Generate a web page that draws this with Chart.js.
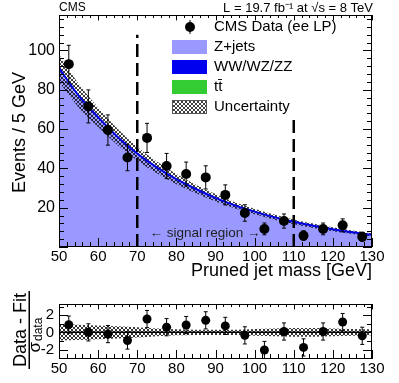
<!DOCTYPE html>
<html lang="en">
<head>
<meta charset="UTF-8">
<title>Pruned jet mass</title>
<script src="https://cdn.jsdelivr.net/npm/chart.js"></script>
<style>
  body { margin: 0; background: #fff; width: 399px; height: 383px; overflow: hidden; }
  canvas { position: absolute; left: 0; }
  #main { top: 0; }
  #pull { top: 290px; }
</style>
</head>
<body>
<canvas id="main" width="399" height="290"></canvas>
<canvas id="pull" width="399" height="93"></canvas>
<script>
// data points (bin centres, 5 GeV bins)
const massBins = [52.5, 57.5, 62.5, 67.5, 72.5, 77.5, 82.5, 87.5, 92.5, 97.5, 102.5, 107.5, 112.5, 117.5, 122.5, 127.5];
const dataEvents = [93, 71.5, 59.5, 45.5, 55.5, 41.2, 37.1, 35.4, 26.5, 17.3, 9.2, 13.2, 5.8, 9.2, 11.0, 5.2];
const dataErr = [9.6, 8.4, 7.7, 6.7, 7.4, 6.4, 6.1, 5.9, 5.1, 4.2, 3.0, 3.6, 2.4, 3.0, 3.3, 2.3];

// fit curves
const fitMass = [50, 55, 60, 65, 70, 75, 80, 85, 90, 95, 100, 105, 110, 115, 120, 125, 130];
const fitTotal = [91, 77, 66, 56, 47.5, 40.5, 34.5, 29.5, 25, 21.2, 18, 15.2, 12.8, 10.8, 9, 7.5, 6.2];
const fitZjets = [89.8, 75.9, 65, 55.1, 46.7, 39.8, 33.9, 29, 24.5, 20.8, 17.6, 14.9, 12.5, 10.5, 8.8, 7.3, 6];
const bandHalf = [7, 6, 5, 4.2, 3.5, 3, 2.6, 2.2, 1.9, 1.6, 1.4, 1.3, 1.2, 1.1, 1, 0.9, 0.8];

// pulls
const pullValues = [0.9, 0.0, -0.2, -0.95, 1.55, 0.6, 0.85, 1.4, 0.75, -0.35, -2.05, 0.1, -1.75, 0.1, 1.2, -0.4];
const pullBand = [0.95, 0.9, 0.8, 0.7, 0.6, 0.45, 0.35, 0.3, 0.3, 0.3, 0.4, 0.45, 0.5, 0.5, 0.45, 0.4, 0.35];

const signalEdges = [70, 110];
const dashTops = [108, 66];

const xTicks = [50, 60, 70, 80, 90, 100, 110, 120, 130];
const FONT = '"Liberation Sans", Arial, sans-serif';

function hatch(color, size) {
  const c = document.createElement('canvas');
  c.width = size; c.height = size;
  const g = c.getContext('2d');
  g.strokeStyle = color;
  g.lineWidth = 1;
  g.beginPath();
  g.moveTo(0, 0); g.lineTo(size, size);
  g.moveTo(size, 0); g.lineTo(0, size);
  g.stroke();
  return g.createPattern(c, 'repeat');
}

// frame with inward ROOT-style ticks
function frameTicks(yMajor, yMinor) {
  return {
    id: 'frameTicks',
    afterDraw(chart) {
      const { ctx, chartArea: a, scales } = chart;
      const x = scales.x, y = scales.y;
      ctx.save();
      ctx.strokeStyle = '#000';
      ctx.lineWidth = 1;
      ctx.strokeRect(a.left + 0.5, a.top + 0.5, a.right - a.left - 1, a.bottom - a.top - 1);
      ctx.beginPath();
      for (let v = x.min; v <= x.max + 1e-6; v += 2) {
        const px = Math.round(x.getPixelForValue(v)) + 0.5;
        const len = (Math.abs(v % 10) < 1e-6) ? 9 : 5;
        ctx.moveTo(px, a.bottom); ctx.lineTo(px, a.bottom - len);
        ctx.moveTo(px, a.top); ctx.lineTo(px, a.top + len * 0.6);
      }
      const start = Math.ceil(y.min / yMinor) * yMinor;
      for (let v = start; v <= y.max + 1e-6; v += yMinor) {
        const py = Math.round(y.getPixelForValue(v)) + 0.5;
        const r = Math.abs(v / yMajor - Math.round(v / yMajor)) < 1e-6;
        const len = r ? 9 : 5;
        ctx.moveTo(a.left, py); ctx.lineTo(a.left + len, py);
        ctx.moveTo(a.right, py); ctx.lineTo(a.right - len, py);
      }
      ctx.stroke();
      ctx.restore();
    }
  };
}

// vertical error bars with small caps
const errorBars = {
  id: 'errorBars',
  afterDatasetsDraw(chart, args, opts) {
    const { ctx, scales } = chart;
    ctx.save();
    ctx.strokeStyle = opts.color || '#000';
    ctx.lineWidth = 1;
    ctx.beginPath();
    opts.x.forEach((xv, i) => {
      const px = scales.x.getPixelForValue(xv);
      const hi = scales.y.getPixelForValue(opts.y[i] + opts.err[i]);
      const lo = scales.y.getPixelForValue(opts.y[i] - opts.err[i]);
      ctx.moveTo(px, hi); ctx.lineTo(px, lo);
      ctx.moveTo(px - 2, hi); ctx.lineTo(px + 2, hi);
      ctx.moveTo(px - 2, lo); ctx.lineTo(px + 2, lo);
    });
    ctx.stroke();
    ctx.restore();
  }
};

const mainHatch = hatch('rgba(0,0,0,0.75)', 4);
const pullHatch = hatch('rgba(0,0,0,0.8)', 4);

const mainText = {
  id: 'mainText',
  afterDraw(chart) {
    const { ctx, chartArea: a, scales } = chart;
    ctx.save();
    ctx.fillStyle = '#000';
    ctx.textBaseline = 'alphabetic';
    ctx.font = '12px ' + FONT;
    ctx.textAlign = 'left';
    ctx.fillText('CMS', a.left, 11);
    ctx.textAlign = 'right';
    ctx.font = '13px ' + FONT;
    ctx.fillText('L = 19.7 fb\u207B\u00B9 at \u221As = 8 TeV', a.right + 1, 12);

    // axis titles
    ctx.font = '18px ' + FONT;
    ctx.textAlign = 'right';
    ctx.fillText('Pruned jet mass [GeV]', a.right, 276);
    ctx.save();
    ctx.translate(25, 72);
    ctx.rotate(-Math.PI / 2);
    ctx.textAlign = 'right';
    ctx.fillText('Events / 5 GeV', 0, 0);
    ctx.restore();

    // signal region label
    ctx.font = '13.5px ' + FONT;
    ctx.textAlign = 'center';
    ctx.fillStyle = '#222';
    ctx.fillText('\u2190 signal region \u2192', scales.x.getPixelForValue(87.3), 237);

    // legend
    const bx = 172, bw = 35, bh = 14, tx = 214;
    ctx.fillStyle = '#000';
    ctx.font = '15px ' + FONT;
    ctx.textAlign = 'left';
    ctx.textBaseline = 'middle';
    ctx.beginPath();
    ctx.arc(190, 27, 5, 0, Math.PI * 2);
    ctx.fill();
    ctx.strokeStyle = '#000';
    ctx.beginPath();
    ctx.moveTo(190, 20); ctx.lineTo(190, 34);
    ctx.stroke();
    ctx.fillText('CMS Data (ee LP)', tx, 27);
    const rows = [
      ['Z+jets', 'rgb(153,153,255)'],
      ['WW/WZ/ZZ', 'rgb(0,0,238)'],
      ['t\u0074\u0304', 'rgb(51,204,51)'],
      ['Uncertainty', null]
    ];
    rows.forEach((r, i) => {
      const cy = 47 + i * 20;
      if (r[1]) {
        ctx.fillStyle = r[1];
        ctx.fillRect(bx, cy - bh / 2, bw, bh);
      } else {
        ctx.fillStyle = '#fff';
        ctx.fillRect(bx, cy - bh / 2, bw, bh);
        ctx.fillStyle = mainHatch;
        ctx.fillRect(bx, cy - bh / 2, bw, bh);
        ctx.strokeStyle = '#555';
        ctx.strokeRect(bx + 0.5, cy - bh / 2 + 0.5, bw - 1, bh - 1);
      }
      ctx.fillStyle = '#000';
      ctx.fillText(r[0], tx, cy);
    });
    ctx.restore();
  }
};

const pullText = {
  id: 'pullText',
  afterDraw(chart) {
    const { ctx } = chart;
    ctx.save();
    ctx.fillStyle = '#000';
    ctx.translate(26, 40);
    ctx.rotate(-Math.PI / 2);
    ctx.textBaseline = 'alphabetic';
    ctx.font = '18px ' + FONT;
    ctx.textAlign = 'center';
    ctx.fillText('Data - Fit', 0, 0);
    ctx.fillRect(-39, 2.5, 78, 1.5);
    ctx.font = '17px ' + FONT;
    ctx.textAlign = 'right';
    ctx.fillText('\u03C3', -12, 14);
    ctx.font = '12px ' + FONT;
    ctx.textAlign = 'left';
    ctx.fillText('data', -11, 16);
    ctx.restore();
  }
};

const xScale = (h, pad) => ({
  type: 'linear', min: 50, max: 130,
  afterBuildTicks: (s) => { s.ticks = xTicks.map(v => ({ value: v })); },
  afterFit: (s) => { s.height = h; },
  grid: { display: false, drawTicks: false },
  border: { display: false },
  ticks: { color: '#000', padding: pad, maxRotation: 0, font: { family: FONT, size: 15 } }
});

const zipXY = (xs, ys) => xs.map((x, i) => ({ x: x, y: ys[i] }));

new Chart(document.getElementById('main'), {
  type: 'line',
  data: {
    datasets: [
      { data: zipXY(massBins, dataEvents), showLine: false, pointRadius: 5, pointBackgroundColor: '#000', pointBorderWidth: 0, order: 1 },
      { data: zipXY([signalEdges[0], signalEdges[0]], [0, dashTops[0]]), borderColor: '#000', borderWidth: 2.5, borderDash: [13, 6], pointRadius: 0, order: 2 },
      { data: zipXY([signalEdges[1], signalEdges[1]], [0, dashTops[1]]), borderColor: '#000', borderWidth: 2.5, borderDash: [13, 6], pointRadius: 0, order: 2 },
      { data: zipXY(fitMass, fitTotal.map((v, i) => v + bandHalf[i])), borderWidth: 0, pointRadius: 0, fill: '+1', backgroundColor: mainHatch, cubicInterpolationMode: 'monotone', order: 4 },
      { data: zipXY(fitMass, fitTotal.map((v, i) => v - bandHalf[i])), borderWidth: 0, pointRadius: 0, fill: false, cubicInterpolationMode: 'monotone', order: 4 },
      { data: zipXY(fitMass, fitTotal), borderColor: 'rgb(0,0,230)', borderWidth: 2, pointRadius: 0, fill: false, cubicInterpolationMode: 'monotone', order: 3 },
      { data: zipXY(fitMass, fitZjets), borderWidth: 0, pointRadius: 0, fill: 'origin', backgroundColor: 'rgb(153,153,255)', cubicInterpolationMode: 'monotone', order: 9 }
    ]
  },
  options: {
    responsive: false, animation: false, events: [],
    layout: { padding: { top: 15, right: 27, left: 0, bottom: 0 } },
    plugins: {
      legend: { display: false }, tooltip: { enabled: false },
      errorBars: { x: massBins, y: dataEvents, err: dataErr, color: '#000' }
    },
    scales: {
      x: xScale(43, 1),
      y: {
        min: 0, max: 118,
        afterBuildTicks: (s) => { s.ticks = [20, 40, 60, 80, 100].map(v => ({ value: v })); },
        afterFit: (s) => { s.width = 59; },
        grid: { display: false, drawTicks: false },
        border: { display: false },
        ticks: { color: '#000', padding: 4, font: { family: FONT, size: 16 } }
      }
    }
  },
  plugins: [errorBars, frameTicks(20, 4), mainText]
});

new Chart(document.getElementById('pull'), {
  type: 'line',
  data: {
    datasets: [
      { data: zipXY(massBins, pullValues), showLine: false, pointRadius: 4.5, pointBackgroundColor: '#000', pointBorderWidth: 0, order: 1 },
      { data: zipXY([50, 130], [0, 0]), borderColor: '#000', borderWidth: 1.5, pointRadius: 0, order: 2 },
      { data: zipXY(fitMass, pullBand), borderWidth: 0, pointRadius: 0, fill: '+1', backgroundColor: pullHatch, cubicInterpolationMode: 'monotone', order: 3 },
      { data: zipXY(fitMass, pullBand.map(v => -v)), borderWidth: 0, pointRadius: 0, fill: false, cubicInterpolationMode: 'monotone', order: 3 }
    ]
  },
  options: {
    responsive: false, animation: false, events: [],
    layout: { padding: { top: 5, right: 27, left: 0, bottom: 0 } },
    plugins: {
      legend: { display: false }, tooltip: { enabled: false },
      errorBars: { x: massBins, y: pullValues, err: massBins.map(() => 1), color: '#000' }
    },
    scales: {
      x: xScale(24, 1),
      y: {
        min: -3.1, max: 3.3,
        afterBuildTicks: (s) => { s.ticks = [-2, 0, 2].map(v => ({ value: v })); },
        afterFit: (s) => { s.width = 59; },
        grid: { display: false, drawTicks: false },
        border: { display: false },
        ticks: { color: '#000', padding: 5, font: { family: FONT, size: 15 } }
      }
    }
  },
  plugins: [errorBars, frameTicks(2, 1), pullText]
});
</script>
</body>
</html>
